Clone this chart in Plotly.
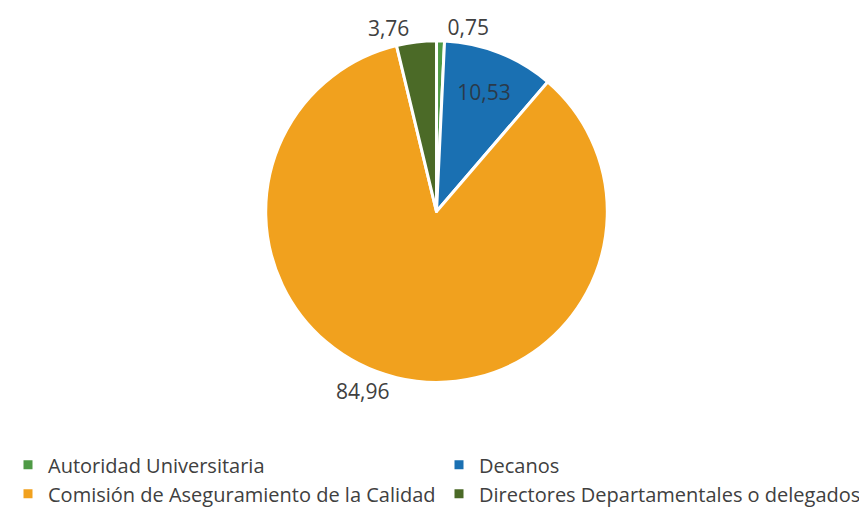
import plotly.graph_objects as go

labels = ["Autoridad Universitaria", "Decanos",
          "Comisión de Aseguramiento de la Calidad",
          "Directores Departamentales o delegados"]
values = [0.75, 10.53, 84.96, 3.76]
value_text = ["0,75", "10,53", "84,96", "3,76"]
colors = ["#4E9A45", "#1A70B2", "#F1A11E", "#4B6A27"]
text_pos = ["outside", "inside", "outside", "outside"]

FONT = "Open Sans"

fig = go.Figure(go.Pie(
    labels=labels,
    values=values,
    text=value_text,
    textinfo="text",
    textposition=text_pos,
    sort=False,
    direction="clockwise",
    rotation=0,
    marker=dict(colors=colors, line=dict(color="white", width=3)),
    textfont=dict(family=FONT, size=21, color="#404040"),
    insidetextfont=dict(family=FONT, size=21, color="#2a3a4a"),
    outsidetextfont=dict(family=FONT, size=21, color="#404040"),
    domain=dict(x=[0.2411, 0.7474], y=[0.1513, 0.974]),
    hoverinfo="label+text",
))

fig.update_layout(
    width=867, height=519,
    margin=dict(l=0, r=0, t=0, b=0),
    paper_bgcolor="white",
    plot_bgcolor="white",
    font=dict(family=FONT, color="#404040"),
    showlegend=True,
    legend=dict(
        orientation="h",
        xref="container", yref="container",
        x=0, xanchor="left",
        y=0.1576, yanchor="top",
        entrywidth=386, entrywidthmode="pixels",
        traceorder="normal",
        font=dict(family=FONT, size=20, color="#404040"),
        itemwidth=30,
    ),
)

fig.write_html("out.html")
